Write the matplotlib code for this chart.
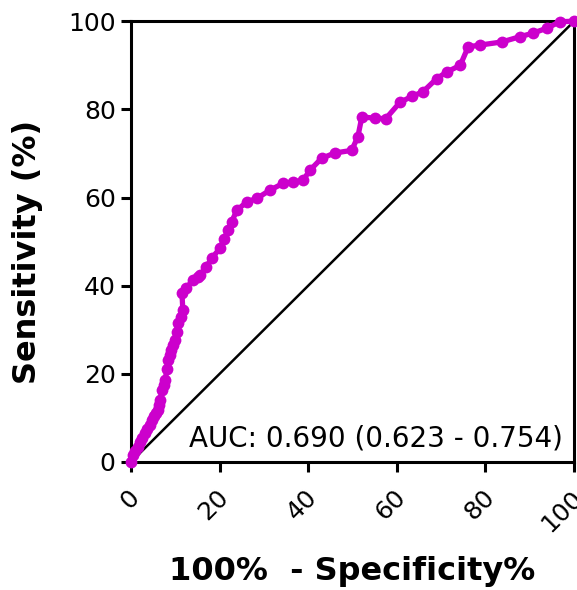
import matplotlib
matplotlib.use("Agg")
import matplotlib.pyplot as plt
from matplotlib.transforms import ScaledTranslation

# ROC curve coordinates (100% - specificity, sensitivity), in percent
fpr = [0, 0.5, 1.0, 1.5, 2.0, 2.5, 3.2, 3.7, 4.2, 4.7, 5.2, 5.7, 6.1, 6.4, 6.6,
       7.0, 7.4, 7.7, 8.1, 8.4, 8.7, 9.0, 9.5, 9.9, 10.3, 10.6, 11.2, 11.7,
       11.5, 12.5, 14.0, 15.1, 15.6, 17.0, 18.2, 20.1, 21.0, 21.9, 22.7, 23.9,
       26.1, 28.4, 31.4, 34.3, 36.5, 38.8, 40.4, 43.0, 46.0, 49.8, 51.2, 52.1,
       55.0, 57.5, 60.7, 63.5, 65.9, 69.0, 71.3, 74.3, 76.1, 78.8, 83.7, 87.8,
       90.7, 93.8, 96.8, 100]
tpr = [0, 1.5, 2.5, 3.5, 4.5, 5.5, 6.6, 7.5, 8.5, 9.5, 10.5, 11.2, 11.8, 13.0,
       14.0, 16.3, 17.5, 18.6, 21.0, 23.1, 24.3, 25.5, 26.6, 27.7, 29.5, 31.5,
       33.0, 34.5, 38.3, 39.5, 41.3, 42.0, 42.4, 44.3, 46.2, 48.5, 50.5, 52.6,
       54.5, 57.1, 59.0, 59.8, 61.7, 63.2, 63.5, 63.9, 66.2, 68.9, 70.1, 70.7,
       73.8, 78.3, 78.0, 77.9, 81.6, 83.0, 84.0, 87.0, 88.5, 90.0, 94.2, 94.6,
       95.3, 96.5, 97.3, 98.4, 99.9, 100]

ref_line = [0, 100]
ticks = [0, 20, 40, 60, 80, 100]
auc_label = "AUC: 0.690 (0.623 - 0.754)"

fig = plt.figure(figsize=(5.77, 5.90), dpi=100)
ax = fig.add_axes([0.227, 0.217, 0.768, 0.747])

ax.plot(ref_line, ref_line, color="black", lw=1.8, zorder=2)
ax.plot(fpr, tpr, color="#CC00CC", lw=3.8, marker="o", markersize=8.5,
        markeredgewidth=0, clip_on=False, zorder=5)

ax.set_xlim(0, 100)
ax.set_ylim(0, 100)
ax.set_xticks(ticks)
ax.set_yticks(ticks)
ax.set_xticklabels([str(t) for t in ticks], rotation=45, ha="right",
                   va="center", rotation_mode="anchor")

for s in ax.spines.values():
    s.set_linewidth(2.2)
    s.set_color("black")
ax.tick_params(axis="both", direction="out", length=7, width=2.2,
               labelsize=18, pad=4)
ax.tick_params(axis="x", pad=16)
shift = ScaledTranslation(5 / 100, 0, fig.dpi_scale_trans)
for lbl in ax.get_xticklabels():
    lbl.set_transform(lbl.get_transform() + shift)

ax.text(97.5, 3.4, auc_label, ha="right", va="baseline", fontsize=20)

ax.set_xlabel("100%  - Specificity%", fontsize=23, fontweight="bold",
              labelpad=14)
ax.set_ylabel("Sensitivity (%)", fontsize=23, fontweight="bold")
ax.yaxis.set_label_coords(-0.199, 0.476)

fig.savefig("out.png", dpi=100)
